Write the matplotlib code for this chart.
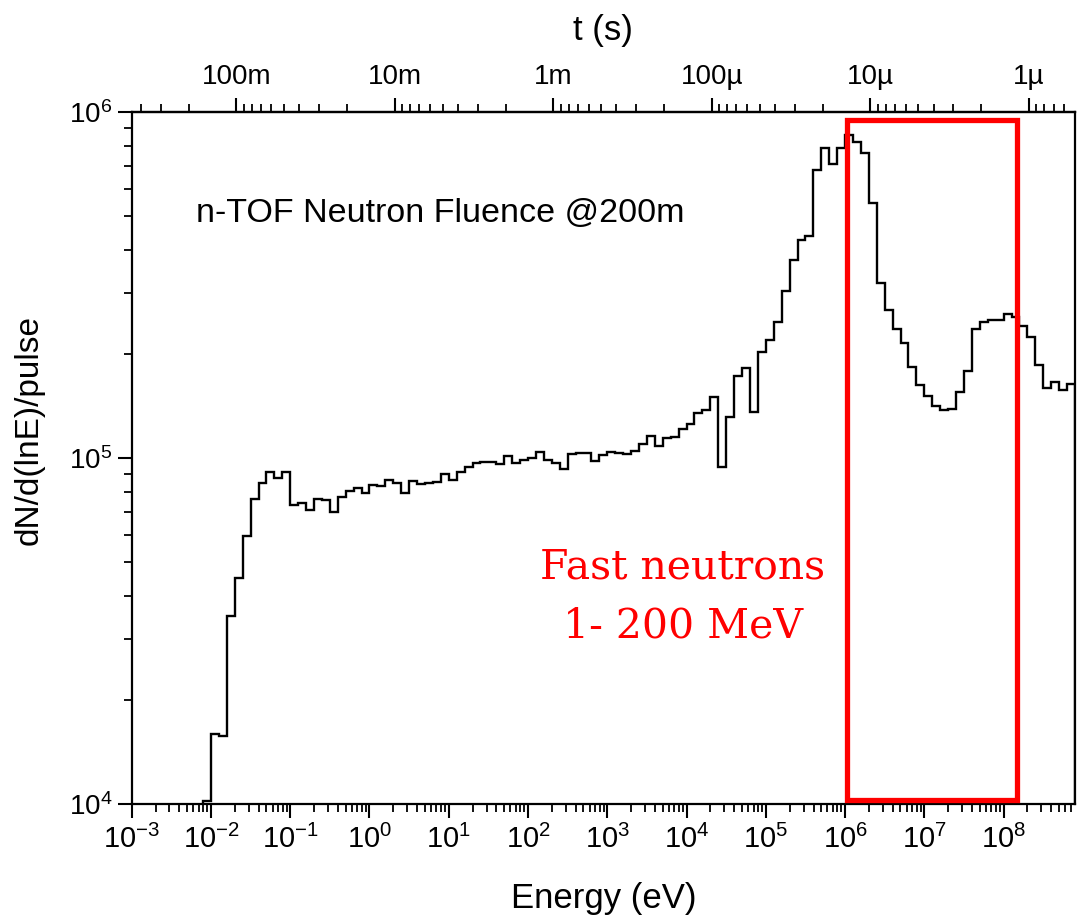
import numpy as np
import matplotlib
matplotlib.use("Agg")
import matplotlib.pyplot as plt
from matplotlib.ticker import LogLocator, FuncFormatter, NullFormatter
from matplotlib.patches import Rectangle

# ---- data: neutron fluence per 0.1-decade energy bin ----
log_e_start = -2.1      # lower edge of first bin, log10(E/eV)
bin_width = 0.1         # decades per bin
flux = [
    1.02e4, 1.59e4, 1.57e4, 3.49e4, 4.49e4, 5.96e4, 7.6e4, 8.49e4, 9.13e4, 8.73e4,
    9.1e4, 7.31e4, 7.41e4, 7.06e4, 7.6e4, 7.55e4, 6.98e4, 7.73e4, 8.03e4, 8.21e4,
    7.92e4, 8.35e4, 8.3e4, 8.63e4, 8.45e4, 7.91e4, 8.56e4, 8.4e4, 8.45e4, 8.51e4,
    9.01e4, 8.63e4, 9.12e4, 9.44e4, 9.66e4, 9.76e4, 9.76e4, 9.62e4, 1.01e5, 9.66e4,
    9.86e4, 9.97e4, 1.04e5, 9.86e4, 9.66e4, 9.27e4, 1.03e5, 1.035e5, 1.035e5, 9.82e4,
    1.02e5, 1.04e5, 1.035e5, 1.03e5, 1.05e5, 1.10e5, 1.16e5, 1.08e5, 1.14e5, 1.15e5,
    1.21e5, 1.25e5, 1.35e5, 1.38e5, 1.50e5, 9.44e4, 1.31e5, 1.72e5, 1.82e5, 1.36e5,
    2.03e5, 2.20e5, 2.47e5, 3.03e5, 3.74e5, 4.27e5, 4.38e5, 6.80e5, 7.85e5, 7.08e5,
    7.85e5, 8.59e5, 8.2e5, 7.6e5, 5.47e5, 3.2e5, 2.68e5, 2.36e5, 2.15e5, 1.83e5,
    1.63e5, 1.51e5, 1.41e5, 1.38e5, 1.39e5, 1.55e5, 1.79e5, 2.36e5, 2.47e5, 2.51e5,
    2.51e5, 2.60e5, 2.56e5, 2.40e5, 2.24e5, 1.86e5, 1.59e5, 1.66e5, 1.57e5, 1.64e5,
]

# top axis: time of flight over 200 m
flight_path = 200.0     # m
t_ticks = [1e-1, 1e-2, 1e-3, 1e-4, 1e-5, 1e-6]
t_labels = ["100m", "10m", "1m", "100µ", "10µ", "1µ"]

# highlighted region (fast neutrons)
box_e = [1.07e6, 1.47e8]
box_y = [1.03e4, 9.5e5]

edges = 10 ** (log_e_start + bin_width * np.arange(len(flux) + 1))

# t = L / v,  v = c * sqrt(2E / mc^2)
K = flight_path / (2.998e8 * np.sqrt(2.0 / 939.565e6))


def e_to_t(e):
    e = np.asarray(e, dtype=float)
    with np.errstate(divide="ignore", invalid="ignore"):
        return K / np.sqrt(np.where(e > 0, e, np.nan))


def t_to_e(t):
    t = np.asarray(t, dtype=float)
    with np.errstate(divide="ignore", invalid="ignore"):
        return (K / np.where(t > 0, t, np.nan)) ** 2


def pow10(v, pos):
    return r"$\mathregular{10^{%d}}$" % round(np.log10(v))


plt.rcParams["font.family"] = ["Liberation Sans", "DejaVu Sans"]

fig = plt.figure(figsize=(10.9, 9.18), dpi=100)
ax = fig.add_axes([0.1208, 0.1242, 0.8654, 0.7538])

ax.stairs(flux, edges, color="black", linewidth=1.7)

ax.set_xscale("log")
ax.set_yscale("log")
ax.set_xlim(1e-3, 10 ** 8.9)
ax.set_ylim(1e4, 1e6)

for s in ax.spines.values():
    s.set_linewidth(1.6)

# ---- bottom axis ----
ax.xaxis.set_major_locator(LogLocator(base=10, numticks=20))
ax.xaxis.set_minor_locator(LogLocator(base=10, subs=np.arange(2, 10), numticks=20))
ax.xaxis.set_major_formatter(FuncFormatter(pow10))
ax.xaxis.set_minor_formatter(NullFormatter())
ax.tick_params(axis="x", which="major", direction="out", length=10, width=1.5, pad=5,
               labelsize=21, top=False)
ax.tick_params(axis="x", which="minor", direction="out", length=5.5, width=1.3, top=False)

# ---- left axis ----
ax.yaxis.set_major_locator(LogLocator(base=10, numticks=10))
ax.yaxis.set_minor_locator(LogLocator(base=10, subs=np.arange(2, 10), numticks=10))
ax.yaxis.set_major_formatter(FuncFormatter(pow10))
ax.yaxis.set_minor_formatter(NullFormatter())
ax.tick_params(axis="y", which="major", direction="out", length=10, width=1.5, pad=4,
               labelsize=20, right=False)
ax.tick_params(axis="y", which="minor", direction="out", length=5.5, width=1.3, right=False)

ax.set_xlabel("Energy (eV)", fontsize=25, labelpad=20)
ax.set_ylabel("dN/d(lnE)/pulse", fontsize=24)
ax.yaxis.set_label_coords(-0.092, 0.54)

# ---- top axis: time of flight ----
secax = ax.secondary_xaxis("top", functions=(e_to_t, t_to_e))
secax.set_xticks(t_ticks, labels=t_labels)
secax.xaxis.set_minor_locator(LogLocator(base=10, subs=np.arange(2, 10), numticks=20))
secax.xaxis.set_minor_formatter(NullFormatter())
secax.tick_params(axis="x", which="major", direction="out", length=10, width=1.5, pad=6,
                  labelsize=20)
secax.tick_params(axis="x", which="minor", direction="out", length=5.5, width=1.3)
secax.spines["top"].set_linewidth(1.6)
secax.set_xlabel("t (s)", fontsize=25, labelpad=17)

# ---- annotations ----
ax.text(0.068, 0.854, "n-TOF Neutron Fluence @200m", transform=ax.transAxes,
        fontsize=24.5, ha="left", va="center")

ax.add_patch(Rectangle((box_e[0], box_y[0]), box_e[1] - box_e[0], box_y[1] - box_y[0],
                       fill=False, edgecolor="#ff0000", linewidth=3.8, clip_on=False, zorder=5))

ax.text(0.5844, 0.326, "Fast neutrons", transform=ax.transAxes, color="#ff0000",
        fontsize=29.5, family="DejaVu Serif", ha="center", va="baseline")
ax.text(0.5844, 0.241, "1- 200 MeV", transform=ax.transAxes, color="#ff0000",
        fontsize=29.5, family="DejaVu Serif", ha="center", va="baseline")

fig.savefig("out.png", dpi=100)
